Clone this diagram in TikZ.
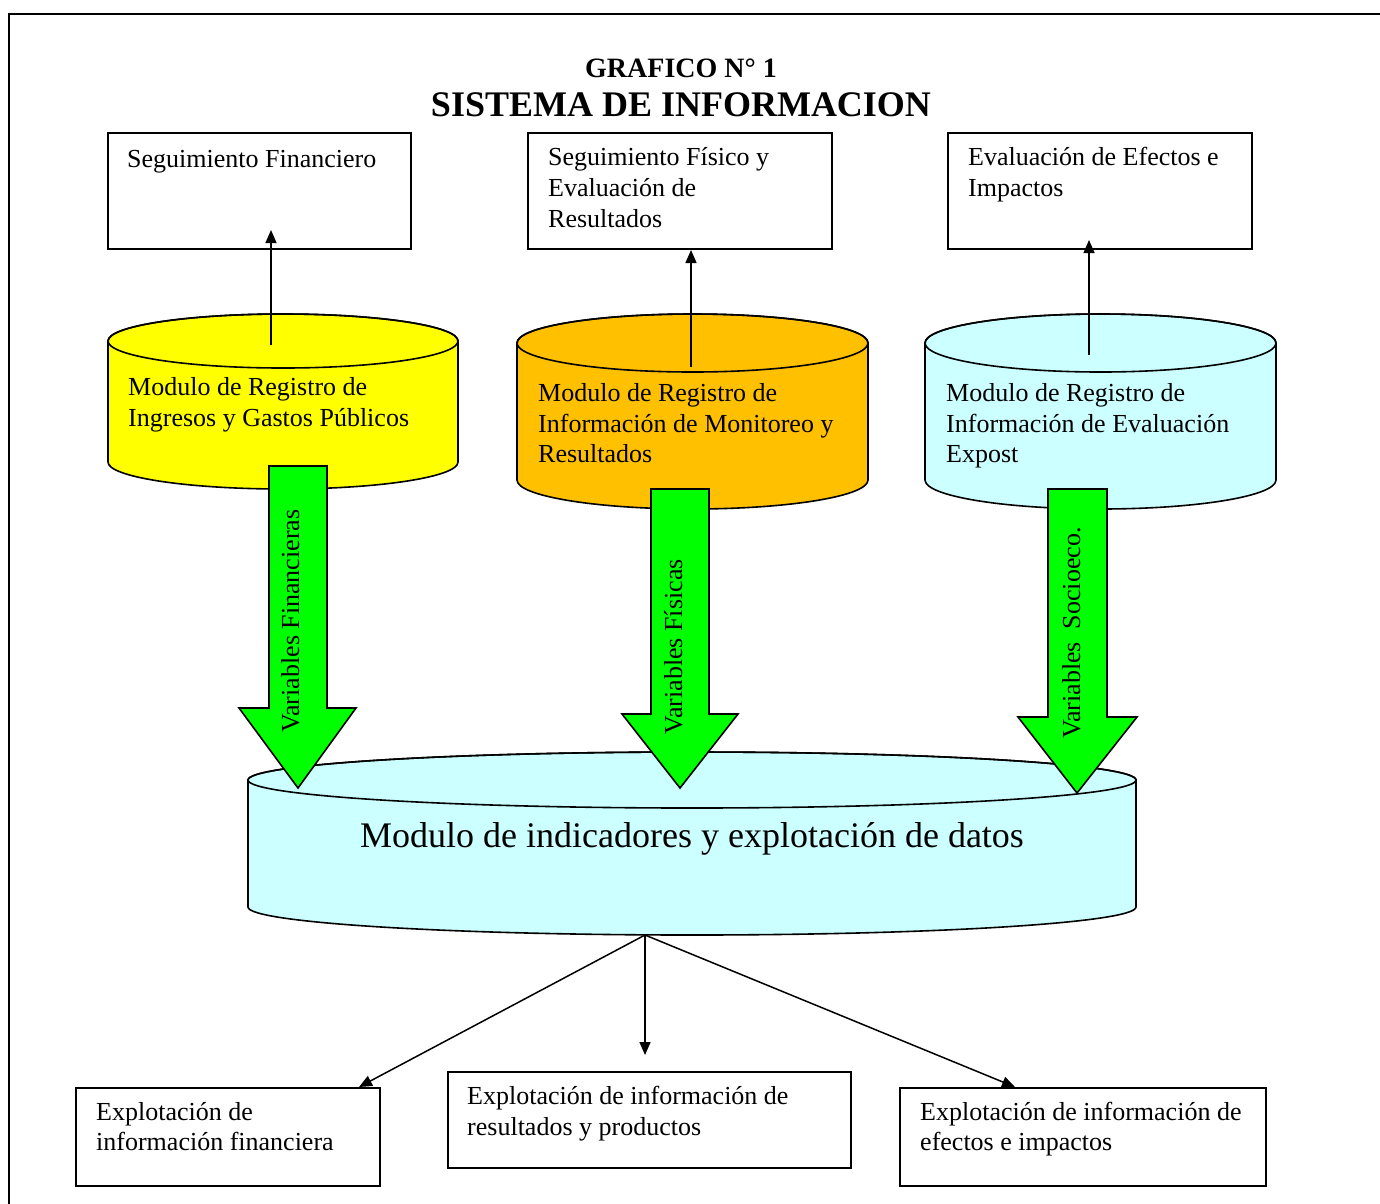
\documentclass[tikz,border=0pt]{standalone}
\usepackage{fontspec}
\setmainfont{Liberation Serif}
\usetikzlibrary{arrows.meta}
\definecolor{cylyellow}{HTML}{FFFF00}
\definecolor{cylorange}{HTML}{FFC000}
\definecolor{cylcyan}{HTML}{CCFFFF}
\definecolor{arrgreen}{HTML}{00FF00}
% x1, x2, xc, rx, ytop, ybottom, ry, colour
\newcommand\mycyl[8]{%
  \path[draw, line width=1.6pt, fill=#8] (#1,#5) -- (#1,#6)
    arc[start angle=180, end angle=360, x radius=#4pt, y radius=#7pt]
    -- (#2,#5)
    arc[start angle=0, end angle=180, x radius=#4pt, y radius=#7pt] -- cycle;
  \draw[line width=1.6pt] (#3,#5) ellipse[x radius=#4pt, y radius=#7pt];
}
\begin{document}
\begin{tikzpicture}[x=1pt, y=-1pt,
  box/.style={draw, line width=1.6pt, inner sep=0pt, fill=white},
  txt/.style={font=\fontsize{26}{31}\selectfont, inner sep=0pt, anchor=base west},
  vtxt/.style={font=\fontsize{26}{31}\selectfont, inner sep=0pt, anchor=base, rotate=90},
  conn/.style={line width=1.5pt, -{Triangle[length=13pt, width=11pt]}},
  garrow/.style={draw, fill=arrgreen, line width=1.6pt, line join=miter}]
\useasboundingbox (0,0) rectangle (1380,1203);
\fill[white] (0,0) rectangle (1380,1203);
% frame
\draw[line width=2pt] (9,1215) -- (9,14) -- (1395,14);
% title
\node[font=\bfseries\fontsize{28}{34}\selectfont, inner sep=0pt, anchor=base] (t1) at (681,77) {GRAFICO N° 1};
\node[font=\bfseries\fontsize{36}{43}\selectfont, inner sep=0pt, anchor=base] (t2) at (681,116) {SISTEMA DE INFORMACION};
% top boxes
\node[box, minimum width=303pt, minimum height=116pt] (b1) at (259.5,191) {};
\node[box, minimum width=304pt, minimum height=116pt] (b2) at (680,191) {};
\node[box, minimum width=304pt, minimum height=116pt] (b3) at (1100,191) {};
\node[txt] (b1a) at (127,167) {Seguimiento Financiero};
\node[txt] (b2a) at (548,165) {Seguimiento Físico y};
\node[txt] (b2b) at (548,196) {Evaluación de};
\node[txt] (b2c) at (548,227) {Resultados};
\node[txt] (b3a) at (968,165) {Evaluación de Efectos e};
\node[txt] (b3b) at (968,196) {Impactos};
% top cylinders
\mycyl{108}{458}{283}{175}{341}{462}{27}{cylyellow}
\mycyl{517}{868}{692.5}{175.5}{343}{480}{29}{cylorange}
\mycyl{925}{1276}{1100.5}{175.5}{343}{480}{29}{cylcyan}
\node[txt] (c1a) at (128,395) {Modulo de Registro de};
\node[txt] (c1b) at (128,426) {Ingresos y Gastos Públicos};
\node[txt] (c2a) at (538,401) {Modulo de Registro de};
\node[txt] (c2b) at (538,432) {Información de Monitoreo y};
\node[txt] (c2c) at (538,462) {Resultados};
\node[txt] (c3a) at (946,401) {Modulo de Registro de};
\node[txt] (c3b) at (946,432) {Información de Evaluación};
\node[txt] (c3c) at (946,462) {Expost};
% up connectors
\coordinate (u1s) at (271,345); \coordinate (u1e) at (271,230);
\coordinate (u2s) at (691,367); \coordinate (u2e) at (691,250);
\coordinate (u3s) at (1089,355); \coordinate (u3e) at (1089,240);
\draw[conn] (u1s) -- (u1e);
\draw[conn] (u2s) -- (u2e);
\draw[conn] (u3s) -- (u3e);
% big cylinder
\mycyl{248}{1136}{692}{444}{780}{907}{28}{cylcyan}
\node[font=\fontsize{36}{43}\selectfont, inner sep=0pt, anchor=base] (big) at (692,847) {Modulo de indicadores y explotación de datos};
% green arrows
\draw[garrow] (269,466) -- (327,466) -- (327,708) -- (356,708) -- (298,788) -- (239,708) -- (269,708) -- cycle;
\draw[garrow] (651,489) -- (709,489) -- (709,714) -- (738,714) -- (680,788) -- (622,714) -- (651,714) -- cycle;
\draw[garrow] (1048,489) -- (1107,489) -- (1107,717) -- (1137,717) -- (1077,793) -- (1018,717) -- (1048,717) -- cycle;
\node[vtxt] (v1) at (299,621) {Variables Financieras};
\node[vtxt] (v2) at (682,647) {Variables Físicas};
\node[vtxt] (v3) at (1080,633) {Variables\ \ Socioeco.};
% bottom boxes
\node[box, minimum width=304pt, minimum height=98pt] (b4) at (228,1137) {};
\node[box, minimum width=403pt, minimum height=96pt] (b5) at (649.5,1120) {};
\node[box, minimum width=366pt, minimum height=98pt] (b6) at (1083,1137) {};
\node[txt] (b4a) at (96,1120) {Explotación de};
\node[txt] (b4b) at (96,1150) {información financiera};
\node[txt] (b5a) at (467,1104) {Explotación de información de};
\node[txt] (b5b) at (467,1135) {resultados y productos};
\node[txt] (b6a) at (920,1120) {Explotación de información de};
\node[txt] (b6b) at (920,1150) {efectos e impactos};
% bottom connectors
\coordinate (hub) at (645,935);
\coordinate (d1e) at (359,1087);
\coordinate (d2e) at (645,1055);
\coordinate (d3e) at (1015,1087);
\draw[conn] (hub) -- (d1e);
\draw[conn] (hub) -- (d2e);
\draw[conn] (hub) -- (d3e);
\end{tikzpicture}
\end{document}
